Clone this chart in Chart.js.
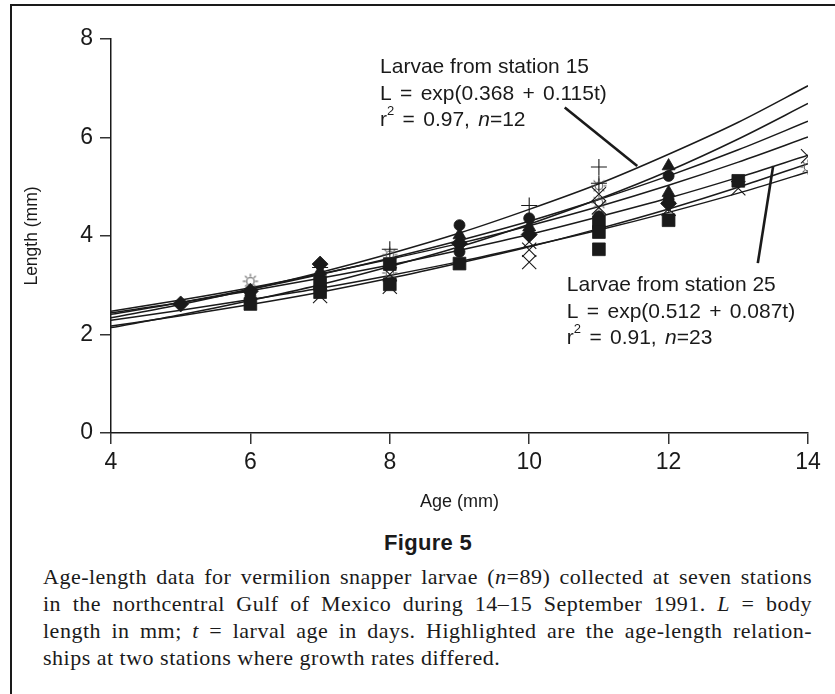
<!DOCTYPE html>
<html><head><meta charset="utf-8">
<script src="https://cdn.jsdelivr.net/npm/chart.js@4.4.1/dist/chart.umd.min.js"></script>
<style>
html,body{margin:0;padding:0;background:#fff;}
body{width:835px;height:694px;position:relative;overflow:hidden;}
#frame{position:absolute;left:10px;top:4px;width:840px;height:720px;border:2px solid #1a1a1a;box-sizing:border-box;}
#wrap{position:absolute;left:0;top:0;width:835px;height:520px;}
#fig{position:absolute;left:428px;top:530px;transform:translateX(-50%);font:bold 22px "Liberation Sans",Arial,sans-serif;color:#1a1a1a;white-space:nowrap;letter-spacing:0.3px;}
.cap{position:absolute;left:43px;width:769px;font:22px "Liberation Serif","Times New Roman",serif;letter-spacing:0.5px;color:#1a1a1a;white-space:nowrap;text-align:justify;text-align-last:justify;line-height:27px;}
.cap.last{text-align-last:left;}
</style></head>
<body>
<div id="frame"></div>
<div id="wrap"><canvas id="c" width="835" height="520"></canvas></div>
<div id="fig">Figure 5</div>
<div class="cap" style="top:563px">Age-length data for vermilion snapper larvae (<i>n</i>=89) collected at seven stations</div>
<div class="cap" style="top:590px">in the northcentral Gulf of Mexico during 14–15 September 1991. <i>L</i> = body</div>
<div class="cap" style="top:617px">length in mm; <i>t</i> = larval age in days. Highlighted are the age-length relation-</div>
<div class="cap last" style="top:644px">ships at two stations where growth rates differed.</div>
<script>
// ---- data ----
const xTicks = [4, 6, 8, 10, 12, 14];
const yTicks = [0, 2, 4, 6, 8];
const curveAges = [4, 5, 6, 7, 8, 9, 10, 11, 12, 13, 14];
const curveSt15 = [2.34, 2.61, 2.92, 3.26, 3.64, 4.06, 4.54, 5.06, 5.66, 6.31, 7.05];
const curveB = [2.14, 2.40, 2.69, 3.01, 3.38, 3.78, 4.24, 4.75, 5.32, 5.97, 6.69];
const curveC = [2.41, 2.65, 2.92, 3.22, 3.55, 3.91, 4.30, 4.74, 5.22, 5.75, 6.33];
const curveD = [2.47, 2.70, 2.95, 3.23, 3.53, 3.85, 4.21, 4.60, 5.03, 5.50, 6.01];
const curveSt25 = [2.44, 2.65, 2.89, 3.14, 3.41, 3.71, 4.03, 4.39, 4.77, 5.19, 5.64];
const curveF = [2.17, 2.38, 2.61, 2.86, 3.14, 3.45, 3.78, 4.15, 4.55, 4.99, 5.47];
const curveG = [2.29, 2.49, 2.71, 2.94, 3.20, 3.48, 3.79, 4.12, 4.48, 4.87, 5.30];

const diamondAge = [5, 6, 7, 9, 10, 12];
const diamondLen = [2.62, 2.88, 3.43, 3.85, 4.03, 4.66];
const circleAge = [6, 7, 7, 9, 9, 10, 11, 12, 12];
const circleLen = [2.78, 3.15, 2.95, 4.22, 3.68, 4.36, 4.40, 5.22, 4.74];
const triangleAge = [7, 9, 10, 12, 12];
const triangleLen = [3.28, 4.02, 4.18, 5.42, 4.88];
const squareAge = [6, 7, 7, 8, 8, 9, 11, 11, 11, 12, 13];
const squareLen = [2.62, 3.05, 2.86, 3.43, 3.02, 3.44, 4.28, 4.08, 3.73, 4.32, 5.12];
const plusAge = [7, 8, 10, 11, 11];
const plusLen = [3.36, 3.73, 4.62, 5.40, 5.07];
const crossAge = [7, 8, 8, 10, 10, 10, 11, 11, 12, 13, 14];
const crossLen = [2.78, 3.22, 2.97, 3.88, 3.72, 3.47, 4.85, 4.58, 4.55, 4.97, 5.62];
const sunAge = [6, 8, 8, 11, 11, 14];
const sunLen = [3.08, 3.62, 3.25, 5.02, 4.68, 5.40];

const pointer15Age = [10.51, 11.55];
const pointer15Len = [6.61, 5.42];
const pointer25Age = [13.50, 13.28];
const pointer25Len = [5.42, 3.45];

const note15Anchor = [7.86, 7.42];
const note25Anchor = [10.54, 3.00];

// ---- helpers ----
const pts = (xs, ys) => xs.map((x, i) => ({x: x, y: ys[i]}));
const INK = '#1a1a1a';
const SANS = '"Liberation Sans", Arial, sans-serif';

const sun = document.createElement('canvas');
sun.width = 18; sun.height = 18;
(function(){
  const g = sun.getContext('2d');
  g.strokeStyle = '#5a5a5a'; g.lineWidth = 1.1;
  g.beginPath(); g.arc(9, 9, 3.8, 0, Math.PI * 2); g.stroke();
  for (let k = 0; k < 8; k++) {
    const a = k * Math.PI / 4;
    g.beginPath();
    g.moveTo(9 + Math.cos(a) * 4.8, 9 + Math.sin(a) * 4.8);
    g.lineTo(9 + Math.cos(a) * 7.6, 9 + Math.sin(a) * 7.6);
    g.stroke();
  }
})();

function curve(vals) {
  return {type: 'line', data: pts(curveAges, vals), borderColor: INK, borderWidth: 1.5,
    pointRadius: 0, showLine: true, cubicInterpolationMode: 'monotone', fill: false, order: 2};
}
function marks(xs, ys, style, r, filled) {
  return {type: 'scatter', data: pts(xs, ys), pointStyle: style, pointRadius: r,
    backgroundColor: filled ? INK : 'rgba(0,0,0,0)', borderColor: INK,
    borderWidth: filled ? 0.8 : 1.1, order: 1};
}
function pointer(xs, ys) {
  return {type: 'line', data: pts(xs, ys), borderColor: INK, borderWidth: 2.6,
    pointRadius: 0, showLine: true, fill: false, order: 0};
}

const notes = [
  {at: note15Anchor, lines: [
    [{t: 'Larvae from station 15'}],
    [{t: 'L = exp(0.368 + 0.115t)', ws: 2.5}],
    [{t: 'r'}, {t: '2', sup: true}, {t: ' = 0.97, ', ws: 2.5}, {t: 'n', it: true}, {t: '=12'}]]},
  {at: note25Anchor, lines: [
    [{t: 'Larvae from station 25'}],
    [{t: 'L = exp(0.512 + 0.087t)', ws: 2.5}],
    [{t: 'r'}, {t: '2', sup: true}, {t: ' = 0.91, ', ws: 2.5}, {t: 'n', it: true}, {t: '=23'}]]}
];

const notePlugin = {
  id: 'notes',
  afterDatasetsDraw(chart) {
    const ctx = chart.ctx, xs = chart.scales.x, ys = chart.scales.y;
    ctx.save();
    ctx.fillStyle = INK;
    ctx.textBaseline = 'middle';
    ctx.textAlign = 'left';
    notes.forEach(n => {
      const px = xs.getPixelForValue(n.at[0]);
      const py = ys.getPixelForValue(n.at[1]);
      n.lines.forEach((line, i) => {
        let cx = px;
        const cy = py + i * 26.5;
        line.forEach(s => {
          if (s.sup) ctx.font = '13px ' + SANS;
          else if (s.it) ctx.font = 'italic 21px ' + SANS;
          else ctx.font = '21px ' + SANS;
          try { ctx.wordSpacing = (s.ws || 0) + 'px'; } catch (e) {}
          ctx.fillText(s.t, cx, s.sup ? cy - 9 : cy);
          cx += ctx.measureText(s.t).width;
        });
      });
    });
    ctx.restore();
  }
};

const axisCommon = {
  type: 'linear',
  border: {display: true, color: INK, width: 1.5},
  grid: {display: true, drawOnChartArea: false, drawTicks: true, tickLength: 11, color: '#333', lineWidth: 1.5},
};

new Chart(document.getElementById('c'), {
  type: 'scatter',
  data: {datasets: [
    curve(curveSt15), curve(curveB), curve(curveC), curve(curveD),
    curve(curveSt25), curve(curveF), curve(curveG),
    marks(squareAge, squareLen, 'rect', 9, true),
    marks(circleAge, circleLen, 'circle', 5.5, true),
    marks(triangleAge, triangleLen, 'triangle', 7.5, true),
    marks(diamondAge, diamondLen, 'rectRot', 8, true),
    marks(plusAge, plusLen, 'cross', 8, false),
    marks(crossAge, crossLen, 'crossRot', 10, false),
    marks(sunAge, sunLen, sun, 9, false),
    pointer(pointer15Age, pointer15Len),
    pointer(pointer25Age, pointer25Len)
  ]},
  options: {
    responsive: false, animation: false, devicePixelRatio: 1,
    layout: {padding: {left: 0, top: 39, right: 27, bottom: 0}},
    plugins: {legend: {display: false}, tooltip: {enabled: false}},
    scales: {
      x: Object.assign({}, axisCommon, {
        min: 4, max: 14,
        afterBuildTicks: s => { s.ticks = xTicks.map(v => ({value: v})); },
        afterFit: s => { s.height = 87; },
        ticks: {color: INK, font: {family: SANS, size: 23}, padding: 5},
        title: {display: true, text: 'Age (mm)', color: INK, font: {family: SANS, size: 18}, padding: {top: 0, bottom: 7}}
      }),
      y: Object.assign({}, axisCommon, {
        min: 0, max: 8,
        afterBuildTicks: s => { s.ticks = yTicks.map(v => ({value: v})); },
        afterFit: s => { s.width = 111; },
        ticks: {color: INK, font: {family: SANS, size: 23}, padding: 7},
        title: {display: true, text: 'Length (mm)', color: INK, font: {family: SANS, size: 17.5}, padding: {top: 22, bottom: 0}}
      })
    }
  },
  plugins: [notePlugin]
});
</script>
</body></html>
